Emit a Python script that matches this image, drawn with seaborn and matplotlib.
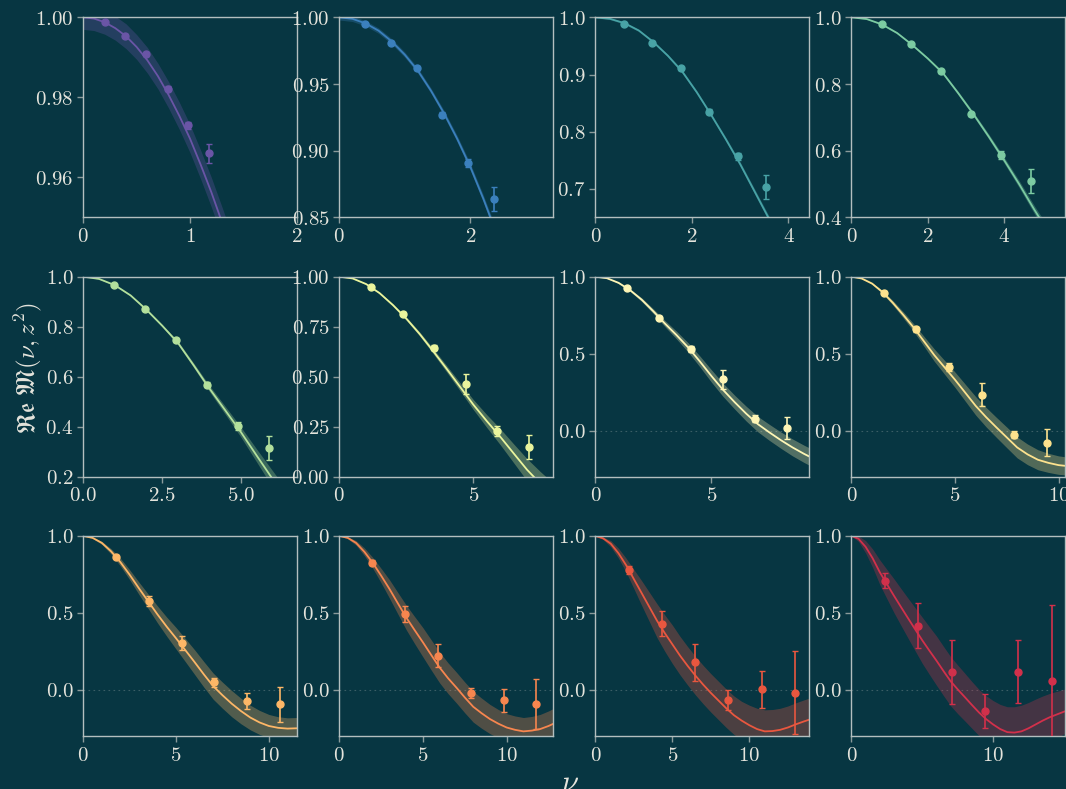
import numpy as np
import matplotlib
matplotlib.use("Agg")
import matplotlib.pyplot as plt
from matplotlib.ticker import FixedLocator, FuncFormatter
import seaborn as sns

# ---------------- data ----------------
panel_colors = ["#6a55a6", "#3b80bd", "#48a3a6", "#7ccba2", "#b3e09c", "#eaf59d",
                "#fef6b6", "#fde28e", "#fdb767", "#f7864f", "#e9573f", "#d2304b"]

point_nu = [
    [0.20, 0.39, 0.59, 0.79, 0.98, 1.18],
    [0.39, 0.79, 1.18, 1.57, 1.96, 2.36],
    [0.59, 1.18, 1.77, 2.36, 2.95, 3.53],
    [0.79, 1.57, 2.36, 3.14, 3.93, 4.71],
    [0.98, 1.96, 2.95, 3.93, 4.91, 5.89],
    [1.18, 2.36, 3.53, 4.71, 5.89, 7.07],
    [1.37, 2.75, 4.12, 5.50, 6.87, 8.25],
    [1.57, 3.14, 4.71, 6.28, 7.85, 9.42],
    [1.77, 3.53, 5.30, 7.07, 8.84, 10.60],
    [1.96, 3.93, 5.89, 7.85, 9.82, 11.78],
    [2.16, 4.32, 6.48, 8.64, 10.80, 12.96],
    [2.36, 4.71, 7.07, 9.42, 11.78, 14.14],
]
point_re = [
    [0.9988, 0.9954, 0.9909, 0.9822, 0.9730, 0.9660],
    [0.995, 0.981, 0.9617, 0.927, 0.8905, 0.8635],
    [0.988, 0.956, 0.911, 0.835, 0.757, 0.703],
    [0.979, 0.919, 0.838, 0.710, 0.586, 0.509],
    [0.967, 0.871, 0.747, 0.567, 0.403, 0.315],
    [0.949, 0.814, 0.645, 0.463, 0.227, 0.148],
    [0.925, 0.734, 0.531, 0.333, 0.078, 0.017],
    [0.896, 0.657, 0.413, 0.233, -0.026, -0.078],
    [0.866, 0.577, 0.302, 0.049, -0.071, -0.095],
    [0.827, 0.493, 0.222, -0.020, -0.069, -0.093],
    [0.780, 0.430, 0.179, -0.067, 0.004, -0.018],
    [0.708, 0.417, 0.117, -0.136, 0.119, 0.060],
]
point_err = [
    [0.0003, 0.0004, 0.0005, 0.0006, 0.0008, 0.0024],
    [0.0005, 0.001, 0.0015, 0.002, 0.003, 0.009],
    [0.001, 0.002, 0.003, 0.004, 0.006, 0.021],
    [0.002, 0.003, 0.004, 0.006, 0.012, 0.035],
    [0.003, 0.005, 0.008, 0.010, 0.017, 0.048],
    [0.005, 0.008, 0.012, 0.052, 0.025, 0.062],
    [0.008, 0.012, 0.020, 0.060, 0.025, 0.073],
    [0.010, 0.015, 0.025, 0.073, 0.025, 0.086],
    [0.010, 0.030, 0.045, 0.030, 0.052, 0.112],
    [0.015, 0.050, 0.076, 0.035, 0.073, 0.164],
    [0.025, 0.083, 0.120, 0.067, 0.119, 0.270],
    [0.049, 0.146, 0.207, 0.112, 0.205, 0.490],
]

curve_nu = [
    [0, 0.1, 0.2, 0.3, 0.4, 0.5, 0.6, 0.7, 0.8, 0.9, 1.0, 1.1, 1.2, 1.3, 1.4],
    [0, 0.2, 0.4, 0.6, 0.8, 1.0, 1.2, 1.4, 1.6, 1.8, 2.0, 2.2, 2.4, 2.6],
    [0, 0.3, 0.6, 0.9, 1.2, 1.5, 1.8, 2.1, 2.4, 2.7, 3.0, 3.3, 3.6, 3.8],
    [0, 0.4, 0.8, 1.2, 1.6, 2.0, 2.4, 2.8, 3.2, 3.6, 4.0, 4.4, 4.8, 5.2],
    [0, 0.5, 1, 1.5, 2, 2.5, 3, 3.5, 4, 4.5, 5, 5.5, 6, 6.5],
    [0, 0.5, 1, 1.5, 2, 2.5, 3, 3.5, 4, 4.5, 5, 5.5, 6, 6.5, 7, 7.5, 8],
    [0, 0.5, 1, 1.5, 2, 2.5, 3, 3.5, 4, 4.5, 5, 5.5, 6, 6.5, 7, 7.5, 8, 8.5, 9, 9.5],
    [0, 0.5, 1, 1.5, 2, 2.5, 3, 3.5, 4, 4.5, 5, 5.5, 6, 6.5, 7, 7.5, 8, 8.5, 9, 9.5,
     10, 10.5],
    [0, 0.5, 1, 1.5, 2, 2.5, 3, 3.5, 4, 4.5, 5, 5.5, 6, 6.5, 7, 7.5, 8, 8.5, 9, 9.5,
     10, 10.5, 11, 11.5, 12],
    [0, 0.5, 1, 1.5, 2, 2.5, 3, 3.5, 4, 4.5, 5, 5.5, 6, 6.5, 7, 7.5, 8, 8.5, 9, 9.5,
     10, 10.5, 11, 11.5, 12, 12.5, 13],
    [0, 0.5, 1, 1.5, 2, 2.5, 3, 3.5, 4, 4.5, 5, 5.5, 6, 6.5, 7, 7.5, 8, 8.5, 9, 9.5,
     10, 10.5, 11, 11.5, 12, 12.5, 13, 13.5, 14],
    [0, 0.5, 1, 1.5, 2, 2.5, 3, 3.5, 4, 4.5, 5, 5.5, 6, 6.5, 7, 7.5, 8, 8.5, 9, 9.5,
     10, 10.5, 11, 11.5, 12, 12.5, 13, 13.5, 14, 14.5, 15, 15.5, 16],
]
curve_re = [
    [1.0, 0.9997, 0.9988, 0.9973, 0.9953, 0.9926, 0.9893, 0.9853, 0.9806, 0.9754,
     0.9697, 0.9632, 0.9563, 0.9488, 0.941],
    [1.0, 0.9989, 0.9955, 0.990, 0.982, 0.972, 0.960, 0.945, 0.928, 0.909, 0.888,
     0.864, 0.838, 0.810],
    [1.0, 0.9975, 0.990, 0.977, 0.957, 0.933, 0.905, 0.869, 0.829, 0.787, 0.743,
     0.695, 0.647, 0.610],
    [1.0, 0.995, 0.979, 0.953, 0.917, 0.877, 0.833, 0.773, 0.710, 0.643, 0.573,
     0.500, 0.423, 0.350],
    [1.0, 0.991, 0.966, 0.925, 0.868, 0.804, 0.735, 0.645, 0.552, 0.465, 0.377,
     0.283, 0.190, 0.097],
    [1.0, 0.991, 0.963, 0.918, 0.858, 0.790, 0.713, 0.628, 0.540, 0.450, 0.360,
     0.278, 0.200, 0.117, 0.035, -0.035, -0.100],
    [1.0, 0.990, 0.960, 0.912, 0.850, 0.775, 0.695, 0.620, 0.540, 0.450, 0.355,
     0.265, 0.185, 0.110, 0.042, -0.012, -0.063, -0.110, -0.152, -0.190],
    [1.0, 0.988, 0.955, 0.900, 0.830, 0.752, 0.670, 0.580, 0.490, 0.410, 0.330,
     0.245, 0.160, 0.087, 0.020, -0.045, -0.110, -0.155, -0.190, -0.210, -0.225,
     -0.232],
    [1.0, 0.988, 0.955, 0.900, 0.830, 0.748, 0.660, 0.575, 0.490, 0.410, 0.335,
     0.258, 0.180, 0.100, 0.024, -0.035, -0.090, -0.138, -0.180, -0.212, -0.235,
     -0.247, -0.252, -0.250, -0.245],
    [1.0, 0.988, 0.955, 0.897, 0.825, 0.742, 0.655, 0.562, 0.470, 0.388, 0.308,
     0.225, 0.144, 0.075, 0.014, -0.050, -0.110, -0.152, -0.190, -0.220, -0.245,
     -0.260, -0.270, -0.265, -0.255, -0.235, -0.210],
    [1.0, 0.985, 0.950, 0.888, 0.810, 0.720, 0.630, 0.540, 0.450, 0.370, 0.296,
     0.222, 0.155, 0.092, 0.034, -0.020, -0.070, -0.120, -0.165, -0.200, -0.230,
     -0.255, -0.270, -0.268, -0.260, -0.245, -0.225, -0.207, -0.190],
    [1.0, 0.982, 0.930, 0.855, 0.765, 0.688, 0.612, 0.538, 0.465, 0.393, 0.322,
     0.255, 0.190, 0.122, 0.056, 0.003, -0.047, -0.098, -0.147, -0.190, -0.225,
     -0.255, -0.275, -0.278, -0.270, -0.250, -0.225, -0.200, -0.178, -0.160,
     -0.142, -0.125, -0.110],
]
curve_halfwidth = [
    [0.003, 0.003, 0.003, 0.003, 0.0031, 0.0031, 0.0032, 0.0032, 0.0033, 0.0034,
     0.0035, 0.0036, 0.0037, 0.0038, 0.004],
    [0.002, 0.002, 0.002, 0.002, 0.002, 0.002, 0.002, 0.002, 0.0022, 0.0024, 0.0026,
     0.0028, 0.003, 0.003],
    [0.001, 0.0015, 0.002, 0.002, 0.002, 0.0025, 0.003, 0.003, 0.003, 0.0035, 0.004,
     0.0045, 0.005, 0.005],
    [0.0, 0.001, 0.002, 0.0025, 0.003, 0.0035, 0.004, 0.005, 0.006, 0.0075, 0.009,
     0.0105, 0.012, 0.014],
    [0.0, 0.001, 0.002, 0.003, 0.004, 0.005, 0.007, 0.009, 0.012, 0.016, 0.020,
     0.026, 0.033, 0.040],
    [0.0, 0.0015, 0.003, 0.0045, 0.006, 0.008, 0.010, 0.013, 0.016, 0.020, 0.025,
     0.032, 0.040, 0.047, 0.055, 0.060, 0.065],
    [0.0, 0.002, 0.005, 0.008, 0.012, 0.016, 0.020, 0.025, 0.030, 0.035, 0.040,
     0.043, 0.045, 0.048, 0.050, 0.052, 0.053, 0.055, 0.056, 0.057],
    [0.0, 0.002, 0.005, 0.010, 0.015, 0.020, 0.025, 0.032, 0.040, 0.045, 0.050,
     0.055, 0.060, 0.063, 0.065, 0.067, 0.068, 0.067, 0.065, 0.062, 0.060, 0.058],
    [0.0, 0.004, 0.010, 0.017, 0.025, 0.032, 0.040, 0.047, 0.055, 0.062, 0.070,
     0.075, 0.080, 0.083, 0.085, 0.085, 0.085, 0.083, 0.080, 0.078, 0.075, 0.072,
     0.070, 0.070, 0.070],
    [0.0, 0.006, 0.015, 0.025, 0.035, 0.047, 0.060, 0.070, 0.080, 0.088, 0.095,
     0.098, 0.100, 0.100, 0.100, 0.100, 0.100, 0.098, 0.095, 0.092, 0.090, 0.090,
     0.090, 0.092, 0.095, 0.098, 0.100],
    [0.0, 0.008, 0.020, 0.032, 0.045, 0.062, 0.080, 0.095, 0.110, 0.118, 0.125,
     0.125, 0.125, 0.125, 0.125, 0.125, 0.125, 0.125, 0.125, 0.125, 0.130, 0.135,
     0.140, 0.140, 0.140, 0.140, 0.140, 0.140, 0.140],
    [0.0, 0.018, 0.040, 0.060, 0.080, 0.095, 0.110, 0.120, 0.130, 0.140, 0.150,
     0.155, 0.160, 0.160, 0.160, 0.158, 0.155, 0.152, 0.150, 0.152, 0.155, 0.160,
     0.165, 0.168, 0.170, 0.168, 0.165, 0.160, 0.155, 0.150, 0.145, 0.142, 0.140],
]

x_max = [2.0, 3.26, 4.42, 5.6, 6.76, 7.96, 9.2, 10.3, 11.5, 12.75, 13.86, 15.06]
y_min = [0.95, 0.85, 0.65, 0.4, 0.2, 0.0, -0.3, -0.3, -0.3, -0.3, -0.3, -0.3]
x_ticks = [[0, 1, 2], [0, 2], [0, 2, 4], [0, 2, 4], [0.0, 2.5, 5.0], [0, 5], [0, 5],
           [0, 5, 10], [0, 5, 10], [0, 5, 10], [0, 5, 10], [0, 10]]
x_decimals = [0, 0, 0, 0, 1, 0, 0, 0, 0, 0, 0, 0]
y_ticks = [[0.96, 0.98, 1.00], [0.85, 0.90, 0.95, 1.00], [0.7, 0.8, 0.9, 1.0],
           [0.4, 0.6, 0.8, 1.0], [0.2, 0.4, 0.6, 0.8, 1.0], [0.0, 0.25, 0.5, 0.75, 1.0],
           [0.0, 0.5, 1.0], [0.0, 0.5, 1.0], [0.0, 0.5, 1.0], [0.0, 0.5, 1.0],
           [0.0, 0.5, 1.0], [0.0, 0.5, 1.0]]
y_decimals = [2, 2, 1, 1, 1, 2, 1, 1, 1, 1, 1, 1]

# ---------------- style ----------------
BG = "#073642"
SPINE = "#b3bfbf"
TICK = "#8a9a9a"
TEXT = "#e4e4dc"

sns.set_theme(style="white", rc={
    "figure.facecolor": BG, "axes.facecolor": BG, "savefig.facecolor": BG,
    "axes.edgecolor": SPINE, "axes.linewidth": 1.0,
    "xtick.color": TICK, "ytick.color": TICK,
    "xtick.labelcolor": TEXT, "ytick.labelcolor": TEXT,
    "xtick.bottom": True, "ytick.left": True,
    "xtick.direction": "out", "ytick.direction": "out",
    "xtick.major.size": 4, "ytick.major.size": 4,
    "xtick.major.width": 1.0, "ytick.major.width": 1.0,
    "axes.grid": False,
})
plt.rcParams["mathtext.fontset"] = "cm"
plt.rcParams["font.family"] = ["DejaVu Serif"]


def mfmt(dec):
    return FuncFormatter(lambda v, p: "$" + f"{v:.{dec}f}" + "$")


fig, axes = plt.subplots(3, 4, figsize=(10.66, 7.89), dpi=100)
fig.subplots_adjust(left=0.0781, right=0.9989, top=0.978, bottom=0.0672,
                    wspace=0.1997, hspace=0.2965)

for i, ax in enumerate(axes.flat):
    c = panel_colors[i]
    cx = np.asarray(curve_nu[i], dtype=float)
    cy = np.asarray(curve_re[i], dtype=float)
    hw = np.asarray(curve_halfwidth[i], dtype=float)
    if y_min[i] < 0:
        ax.axhline(0.0, color="#5f7a7f", lw=0.8, ls=(0, (1.5, 3)), alpha=0.6, zorder=0)
    ax.fill_between(cx, cy - hw, cy + hw, color=c, alpha=0.3, lw=0, zorder=1)
    sns.lineplot(x=cx, y=cy, ax=ax, color=c, lw=1.3, zorder=2)
    ax.errorbar(point_nu[i], point_re[i], yerr=point_err[i], fmt="o", color=c,
                ms=5, lw=1.2, capsize=2, capthick=1.0, zorder=3)
    ax.set_xlim(0, x_max[i])
    ax.set_ylim(y_min[i], 1.0)
    ax.xaxis.set_major_locator(FixedLocator(x_ticks[i]))
    ax.yaxis.set_major_locator(FixedLocator(y_ticks[i]))
    ax.xaxis.set_major_formatter(mfmt(x_decimals[i]))
    ax.yaxis.set_major_formatter(mfmt(y_decimals[i]))
    ax.tick_params(labelsize=15, pad=3)
    ax.set_xlabel("")
    ax.set_ylabel("")
    for s in ax.spines.values():
        s.set_color(SPINE)
        s.set_visible(True)

fig.text(0.026, 0.534, r"$\mathfrak{Re}\;\mathfrak{M}(\nu,z^2)$", rotation=90,
         ha="center", va="center", color=TEXT, fontsize=18)
fig.text(0.535, -0.012, r"$\nu$", ha="center", va="bottom", color=TEXT, fontsize=22)

fig.savefig("out.png", dpi=100, facecolor=BG)
